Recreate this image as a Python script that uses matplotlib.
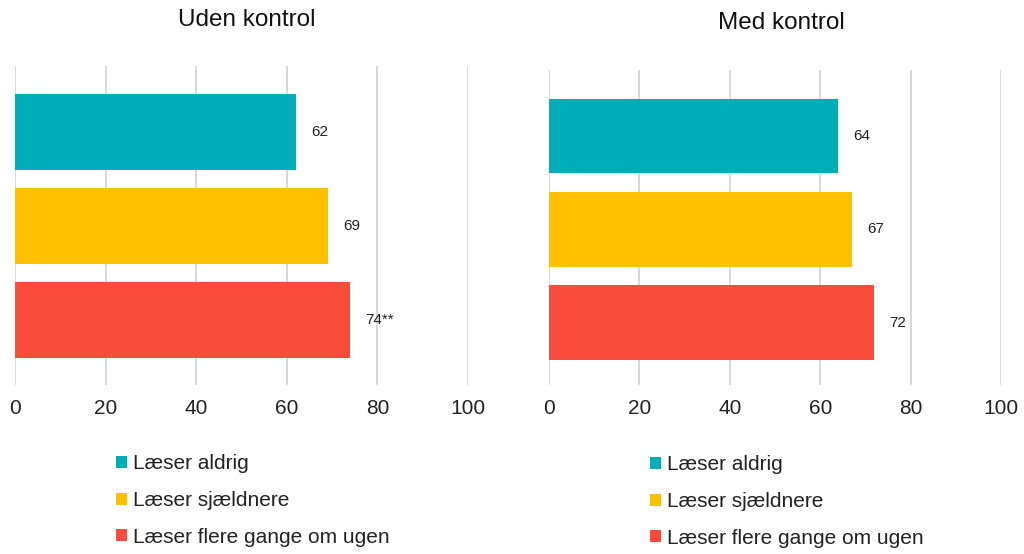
import matplotlib.pyplot as plt
from matplotlib.patches import Patch

plt.rcParams['font.family'] = ['Liberation Sans', 'DejaVu Sans']

categories = ['Læser aldrig', 'Læser sjældnere', 'Læser flere gange om ugen']
colors = ['#00AEB9', '#FFC000', '#F94C3C']

titles = ['Uden kontrol', 'Med kontrol']
values_uden = [62, 69, 74]
values_med = [64, 67, 72]
labels_uden = ['62', '69', '74**']
labels_med = ['64', '67', '72']
ticks = [0, 20, 40, 60, 80, 100]

fig = plt.figure(figsize=(10.24, 5.54), dpi=100)

# axes boxes in figure fractions
ax_left = fig.add_axes([15 / 1024, 1 - 385 / 554, 453 / 1024, 319 / 554])
ax_right = fig.add_axes([549 / 1024, 1 - 385 / 554, 452 / 1024, 315 / 554])

panels = [
    (ax_left, titles[0], values_uden, labels_uden, (2.69, -0.70), 247, 20),
    (ax_right, titles[1], values_med, labels_med, (2.67, -0.71), 781, 23),
]

for ax, title, vals, labs, ylim, tx, ty in panels:
    ypos = list(range(len(categories)))
    bars = ax.barh(ypos, vals, height=0.8, color=colors, zorder=3)
    for b, lab in zip(bars, labs):
        ax.annotate(lab, (b.get_width(), b.get_y() + b.get_height() / 2),
                    xytext=(11, 0), textcoords='offset points',
                    ha='left', va='center', fontsize=11, color='#222222')
    ax.set_xlim(0, 100)
    ax.set_ylim(*ylim)
    ax.set_xticks(ticks)
    ax.set_yticks([])
    ax.grid(axis='x', color='#D3D3D3', linewidth=1.2, zorder=0)
    ax.tick_params(axis='x', length=0, labelsize=15, pad=10, labelcolor='#222222')
    for s in ax.spines.values():
        s.set_visible(False)
    fig.text(tx / 1024, 1 - ty / 554, title, ha='center', va='center', fontsize=17.5,
             color='#111111')

handles = [Patch(facecolor=c, edgecolor='none') for c in colors]
for x0, y0 in [(108, 446), (642, 447)]:
    fig.legend(handles, categories, loc='upper left',
               bbox_to_anchor=(x0 / 1024, 1 - y0 / 554), frameon=False,
               fontsize=15, handlelength=0.5, handleheight=0.5,
               handletextpad=0.3, labelspacing=0.85, borderaxespad=0,
               labelcolor='#222222')

fig.savefig('out.png', dpi=100)
